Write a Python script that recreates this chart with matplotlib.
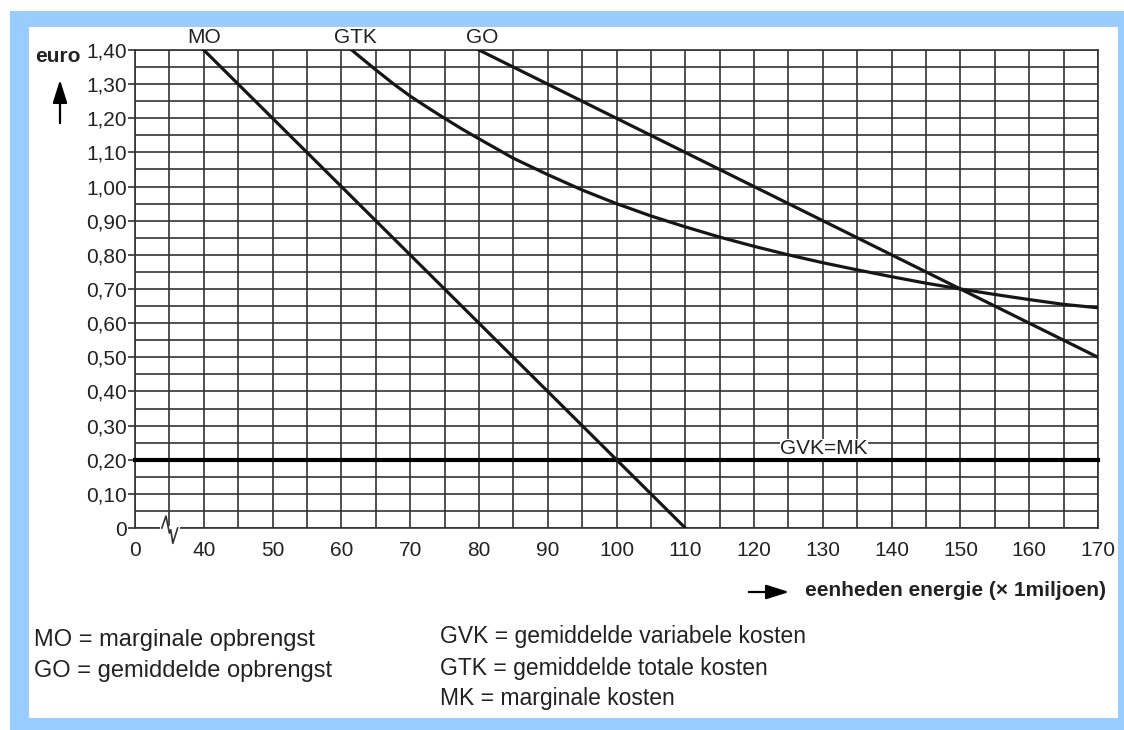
import matplotlib
matplotlib.use("Agg")
import matplotlib.pyplot as plt
from matplotlib.patches import Rectangle
import numpy as np

plt.rcParams['font.family'] = ['Liberation Sans', 'DejaVu Sans']

################################################################################
# data (x in units of 1 miljoen, y in euro)

mo_x = [40, 110]
mo_y = [1.40, 0.00]

go_x = [80, 170]
go_y = [1.40, 0.50]

gtk_x = [61.5, 63, 65, 67.5, 70, 72.5, 75, 77.5, 80, 85, 90, 95, 100, 105, 110,
         115, 120, 125, 130, 135, 140, 145, 150, 155, 160, 165, 170]
gtk_y = [1.40, 1.375, 1.342, 1.302, 1.265, 1.232, 1.20, 1.169, 1.14, 1.083,
         1.035, 0.99, 0.95, 0.914, 0.882, 0.852, 0.825, 0.80, 0.777, 0.756,
         0.736, 0.717, 0.70, 0.684, 0.669, 0.655, 0.645]

gvk_x = [0, 170]
gvk_y = [0.20, 0.20]

x_ticks = [0, 40, 50, 60, 70, 80, 90, 100, 110, 120, 130, 140, 150, 160, 170]
y_ticks = [0.0, 0.1, 0.2, 0.3, 0.4, 0.5, 0.6, 0.7, 0.8, 0.9, 1.0, 1.1, 1.2, 1.3, 1.4]

legend_left = ["MO = marginale opbrengst", "GO = gemiddelde opbrengst"]
legend_right = ["GVK = gemiddelde variabele kosten",
                "GTK = gemiddelde totale kosten",
                "MK = marginale kosten"]

################################################################################

W, H = 1124, 730
BREAK_POS = 30  # the "0" sits one interval left of 40 (axis is broken)
TXT = "#222222"


def bx(values):
    # map real x values to the broken axis
    return [BREAK_POS if v == 0 else v for v in values]


def fp(x, y):
    # pixel position (from top left) -> figure fraction
    return x / W, 1 - y / H


fig = plt.figure(figsize=(W / 100, H / 100), dpi=100)
fig.patch.set_facecolor("white")

# light blue frame
fig.patches.append(Rectangle(fp(10, 730), 1114 / W, 719 / H, transform=fig.transFigure,
                             facecolor="#99ccff", edgecolor="none", zorder=-2))
fig.patches.append(Rectangle(fp(29, 718), 1089 / W, 691 / H, transform=fig.transFigure,
                             facecolor="white", edgecolor="none", zorder=-1))

ax = fig.add_axes([135 / W, 1 - 528 / H, 963 / W, 478 / H])
ax.set_facecolor("none")
ax.set_xlim(BREAK_POS, 170)
ax.set_ylim(0, 1.40)

grid_col = "#333333"
ax.set_xticks(bx(x_ticks))
ax.set_xticklabels([str(v) for v in x_ticks])
ax.set_xticks(np.arange(35, 170, 10), minor=True)
ax.set_yticks(y_ticks)
ax.set_yticklabels(["0" if v == 0 else f"{v:.2f}".replace(".", ",") for v in y_ticks])
ax.set_yticks(np.arange(0.05, 1.40, 0.1), minor=True)
ax.grid(which="both", color=grid_col, linewidth=1.2, zorder=0)
ax.set_axisbelow(True)
for s in ax.spines.values():
    s.set_color(grid_col)
    s.set_linewidth(1.2)

ax.tick_params(axis="x", which="both", length=0, pad=9, labelsize=15, colors=TXT)
ax.tick_params(axis="y", which="major", length=5, width=1.2, pad=1, labelsize=15,
               colors=TXT, color=grid_col)
ax.tick_params(axis="y", which="minor", length=0)

# curves
ax.plot(bx(gvk_x), gvk_y, color="black", linewidth=3, zorder=3, clip_on=False)
ax.plot(mo_x, mo_y, color="#161616", linewidth=2.3, zorder=3)
ax.plot(go_x, go_y, color="#161616", linewidth=2.3, zorder=3)
ax.plot(gtk_x, gtk_y, color="#161616", linewidth=2.3, zorder=3)

# curve labels
ax.text(mo_x[0], 1.436, "MO", ha="center", va="center", fontsize=15, color=TXT)
ax.text(gtk_x[0] + 0.5, 1.436, "GTK", ha="center", va="center", fontsize=15, color=TXT)
ax.text(go_x[0] + 0.5, 1.436, "GO", ha="center", va="center", fontsize=15, color=TXT)
ax.text(123.8, 0.233, "GVK=MK", ha="left", va="center", fontsize=15, color=TXT,
        bbox=dict(facecolor="white", edgecolor="none", pad=0), zorder=4)

# axis break squiggle
ax.plot([33.9, 36.2], [0, 0], color="white", linewidth=3, zorder=5, clip_on=False)
ax.plot([33.9, 34.5, 35.0, 35.2, 35.5, 36.2], [0, 0.035, -0.015, -0.005, -0.045, 0],
        color="#333333", linewidth=1.2, zorder=6, clip_on=False)

# axis titles and arrows
arrow = dict(arrowstyle="-|>,head_length=0.7,head_width=0.22", color="black",
             lw=1.6, mutation_scale=20)
fig.text(*fp(35, 56), "euro", ha="left", va="center", fontsize=15, fontweight="bold",
         color=TXT)
ax.annotate("", xy=(60, H - 77), xytext=(60, H - 126), xycoords="figure pixels",
            textcoords="figure pixels", arrowprops=arrow)
ax.annotate("", xy=(792, H - 592), xytext=(746, H - 592), xycoords="figure pixels",
            textcoords="figure pixels", arrowprops=arrow)
fig.text(*fp(805, 591), "eenheden energie (× 1miljoen)", ha="left", va="center",
         fontsize=15, fontweight="bold", color=TXT)

# legend text
for i, t in enumerate(legend_left):
    fig.text(*fp(34, 640 + 31 * i), t, ha="left", va="center", fontsize=17, color=TXT)
for i, t in enumerate(legend_right):
    fig.text(*fp(440, 637 + 31 * i), t, ha="left", va="center", fontsize=16.5, color=TXT)

fig.savefig("out.png", dpi=100)
